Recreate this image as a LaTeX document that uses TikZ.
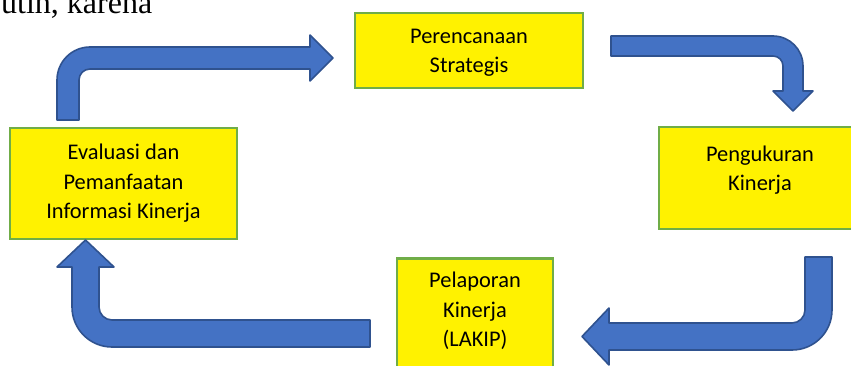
\documentclass[tikz,border=0pt]{standalone}
\usepackage{fontspec}
\setmainfont{Carlito}
\newfontfamily\fragfont{Liberation Serif}
\usepackage{tikz}
\usetikzlibrary{positioning}
\definecolor{boxgreen}{HTML}{70AD47}
\definecolor{arrowblue}{HTML}{4472C4}
\definecolor{arrowedge}{HTML}{2F528F}
\newcommand{\boxfont}{\fontsize{22.4pt}{29.5pt}\selectfont}
\tikzset{
  stage/.style = {draw = boxgreen, line width = 2.8pt, fill = yellow, align = center, font = \boxfont, inner sep = 0pt},
  stagetext/.style = {align = center, font = \boxfont, inner sep = 0pt},
  blockarrow/.style = {draw = arrowedge, line width = 1.6pt, fill = arrowblue, line join = round}
}
\begin{document}
\begin{tikzpicture}[x = 1pt, y = -1pt]
\useasboundingbox (0,0) rectangle (851,366);
\node[anchor = base west, font = \fragfont\fontsize{32pt}{38pt}\selectfont, inner sep = 0pt] (frag) at (1,14) {utih, karena};
\node[stage, minimum width = 228pt, minimum height = 75pt] (plan) at (469,50.5) {};
\node[stagetext, below = 17pt of plan.north] (plantext) {Perencanaan\\Strategis};
\node[stage, minimum width = 202pt, minimum height = 102pt] (ukur) at (760,178) {};
\node[stagetext, below = 20pt of ukur.north] (ukurtext) {Pengukuran\\Kinerja};
\node[stage, minimum width = 156pt, minimum height = 130pt, anchor = north] (lapor) at (475,257) {};
\node[stagetext, below = 15pt of lapor.north] (laportext) {Pelaporan\\Kinerja\\(LAKIP)};
\node[stage, minimum width = 227pt, minimum height = 111pt] (eval) at (123.5,183.5) {Evaluasi dan\\Pemanfaatan\\Informasi Kinerja};
\draw[blockarrow] (57,120) -- (57,80) arc (180:90:33pt) -- (310,47) -- (310,35) -- (333,58) -- (310,81) -- (310,69) -- (90,69) arc (90:180:11pt) -- (79,120) -- cycle;
\draw[blockarrow] (611,36) -- (773,36) arc (90:0:30pt) -- (803,91) -- (813,91) -- (793,111) -- (773,91) -- (783,91) -- (783,66) arc (0:90:10pt) -- (611,56) -- cycle;
\draw[blockarrow] (805,257) -- (832,257) -- (832,310) arc (0:-90:40pt) -- (609,350) -- (609,365) -- (582,336.5) -- (609,308) -- (609,323) -- (792,323) arc (-90:0:13pt) -- cycle;
\draw[blockarrow] (370,320) -- (370,347) -- (112,347) arc (-90:-180:40pt) -- (72,267) -- (57,267) -- (85.5,240) -- (114,267) -- (99,267) -- (99,307) arc (180:270:13pt) -- cycle;
\end{tikzpicture}
\end{document}
